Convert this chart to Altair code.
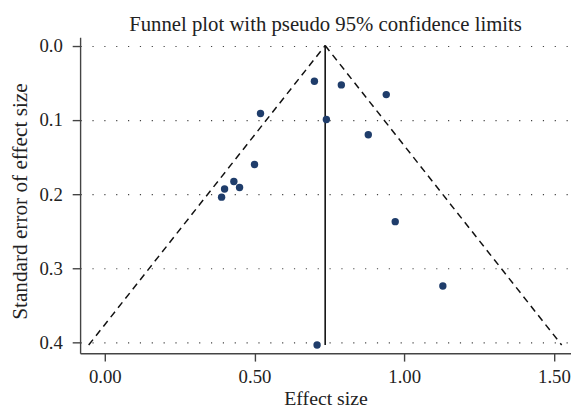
import altair as alt
import pandas as pd

# Study-level estimates
effect = [0.700, 0.790, 0.940, 0.520, 0.740, 0.880, 0.500, 0.431, 0.400, 0.450, 0.390, 0.970, 1.129, 0.709]
se = [0.048, 0.053, 0.066, 0.0915, 0.0995, 0.120, 0.160, 0.183, 0.193, 0.191, 0.204, 0.237, 0.3236, 0.403]

# Pooled estimate (vertical line) and maximum standard error of the funnel
pooled = 0.736
se_max = 0.403

x_ticks = [0.0, 0.5, 1.0, 1.5]
y_ticks = [0.0, 0.1, 0.2, 0.3, 0.4]

title_text = ["Funnel plot with pseudo 95% confidence limits"]

FONT = "Liberation Serif"
POINT_COLOR = "#1f3d6b"

points = pd.DataFrame({"effect": effect, "se": se})
funnel = pd.DataFrame({
    "side": ["left", "left", "right", "right"],
    "effect": [pooled, pooled - 1.96 * se_max, pooled, pooled + 1.96 * se_max],
    "se": [0.0, se_max, 0.0, se_max],
})
center = pd.DataFrame({"effect": [pooled, pooled], "se": [0.0, se_max]})
title_df = pd.DataFrame({"t": title_text})

W, H = 497, 320

xscale = alt.Scale(domain=[-0.0825, 1.557], nice=False, zero=False)
yscale = alt.Scale(domain=[-0.0113, 0.414], nice=False, zero=False, reverse=True)

xaxis = alt.Axis(
    values=x_ticks, format=".2f", title="Effect size", grid=False,
    tickSize=8, labelPadding=7, titleY=52, titleBaseline="alphabetic",
    titleFontSize=20,
)
yaxis = alt.Axis(
    values=y_ticks, format=".1f", title="Standard error of effect size",
    grid=True, gridDash=[1.2, 10.8], gridColor="#444", gridWidth=1.2,
    tickSize=8, labelPadding=10, titleX=-60, titleY=166,
    titleAngle=-90, titleBaseline="middle", titleAlign="center",
    titleFontSize=21.5,
)

base_x = alt.X("effect:Q", scale=xscale, axis=xaxis)
base_y = alt.Y("se:Q", scale=yscale, axis=yaxis)

dashed = alt.Chart(funnel).mark_line(
    color="#111", strokeDash=[7, 5], strokeWidth=1.5
).encode(x=base_x, y=base_y, detail="side:N")

vline = alt.Chart(center).mark_line(color="#111", strokeWidth=1.6).encode(
    x=alt.X("effect:Q", scale=xscale), y=alt.Y("se:Q", scale=yscale)
)

dots = alt.Chart(points).mark_circle(size=56, color=POINT_COLOR, opacity=1).encode(
    x=alt.X("effect:Q", scale=xscale), y=alt.Y("se:Q", scale=yscale)
)

title = alt.Chart(title_df).mark_text(
    font=FONT, fontSize=21, color="#222", baseline="alphabetic", align="center"
).encode(x=alt.value(W / 2), y=alt.value(-6), text="t:N")

chart = alt.layer(dashed, vline, dots, title).properties(
    width=W,
    height=H,
    autosize=alt.AutoSizeParams(type="none"),
    padding={"left": 73, "top": 27, "right": 0, "bottom": 56},
).configure_view(stroke=None).configure_axis(
    labelFont=FONT, titleFont=FONT, labelFontSize=19,
    labelColor="#222", titleColor="#222", titleFontWeight="normal",
    domainColor="#444", tickColor="#444", domainWidth=1.4, tickWidth=1.4,
)

chart.save("out.html", embed_options={"renderer": "svg", "actions": False})
